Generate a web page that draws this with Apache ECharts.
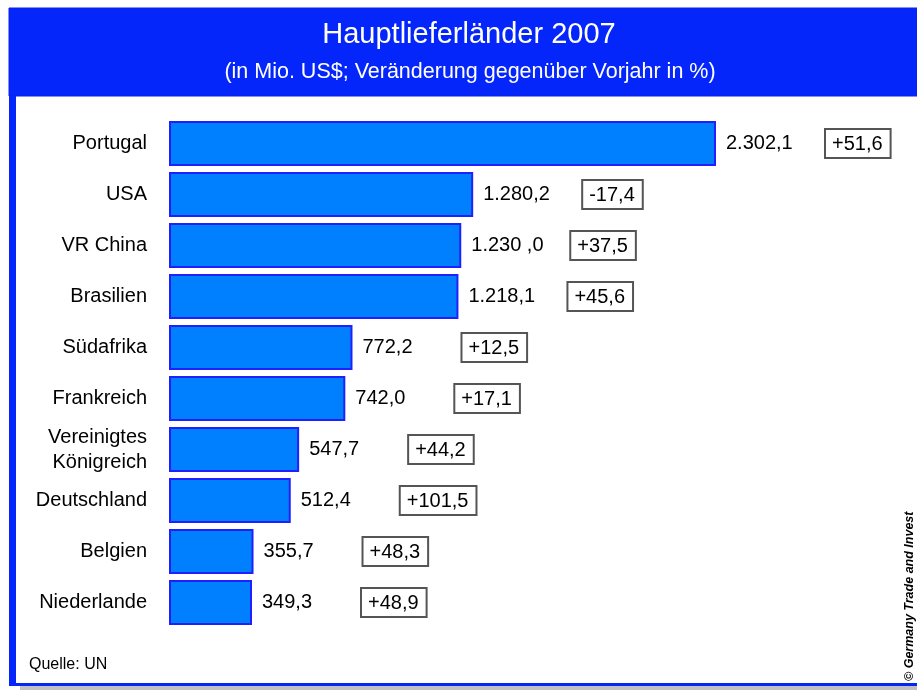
<!DOCTYPE html>
<html>
<head>
<meta charset="utf-8">
<title>Hauptlieferländer 2007</title>
<script src="https://cdn.jsdelivr.net/npm/echarts@6/dist/echarts.min.js"></script>
<style>
  html, body { margin: 0; padding: 0; background: #fff; }
  #chart { width: 917px; height: 690px; }
</style>
</head>
<body>
<div id="chart"></div>
<script>
// Daten
var countries = ["Portugal", "USA", "VR China", "Brasilien", "Südafrika", "Frankreich",
  "Vereinigtes\nKönigreich", "Deutschland", "Belgien", "Niederlande"];
var values = [2302.1, 1280.2, 1230.0, 1218.1, 772.2, 742.0, 547.7, 512.4, 355.7, 349.3];
// Beschriftung wie im Original (inkl. "1.230 ,0")
var valueLabels = ["2.302,1", "1.280,2", "1.230 ,0", "1.218,1", "772,2", "742,0",
  "547,7", "512,4", "355,7", "349,3"];
var changes = [51.6, -17.4, 37.5, 45.6, 12.5, 17.1, 44.2, 101.5, 48.3, 48.9];

var font = "Liberation Sans, Arial, sans-serif";
var blue = "#0526fa";

function fmtChange(n) {
  return (n > 0 ? "+" : "") + n.toFixed(1).replace(".", ",");
}

var chart = echarts.init(document.getElementById("chart"));

var option = {
  animation: false,
  backgroundColor: "#fff",
  graphic: [
    // Kopfzeile
    { type: "rect", shape: { x: 9, y: 8, width: 908, height: 88 }, style: { fill: blue, stroke: "#0a1ee8", lineWidth: 1 }, z: -1 },
    // Rahmen links / unten
    { type: "rect", shape: { x: 9, y: 96, width: 7, height: 590 }, style: { fill: blue }, z: -1 },
    { type: "rect", shape: { x: 9, y: 683, width: 908, height: 3 }, style: { fill: blue }, z: -1 },
    { type: "rect", shape: { x: 20, y: 686, width: 897, height: 4 }, style: { fill: "#c0c0c0" }, z: -1 },
    { type: "text", x: 469, y: 20,
      style: { text: "Hauptlieferländer 2007", fill: "#fff", font: "29px " + font, align: "center" } },
    { type: "text", x: 470, y: 61,
      style: { text: "(in Mio. US$; Veränderung gegenüber Vorjahr in %)", fill: "#fff", font: "21.5px " + font, align: "center" } },
    { type: "text", x: 29, y: 657,
      style: { text: "Quelle: UN", fill: "#000", font: "16px " + font } },
    { type: "text", x: 916, y: 681, rotation: Math.PI / 2, originX: 0, originY: 0,
      style: { text: "© Germany Trade and Invest", fill: "#000", font: "italic bold 12.5px " + font,
        align: "left", verticalAlign: "bottom" } }
  ],
  grid: { left: 169, top: 118, width: 547, height: 510 },
  xAxis: { type: "value", min: 0, max: 2302.1, show: false },
  yAxis: {
    type: "category",
    inverse: true,
    data: countries,
    axisLine: { show: false },
    axisTick: { alignWithLabel: true, length: 9, lineStyle: { color: "#aaa" } },
    axisLabel: { margin: 22, color: "#000", fontSize: 20, fontFamily: font, lineHeight: 25 }
  },
  series: [
    {
      type: "bar",
      data: values,
      barWidth: 45,
      itemStyle: { color: "#0080ff", borderColor: "#2020ff", borderWidth: 2 },
      label: {
        show: true,
        position: "right",
        distance: 10,
        formatter: function (p) {
          return "{v|" + valueLabels[p.dataIndex] + "}{c|" + fmtChange(changes[p.dataIndex]) + "}";
        },
        rich: {
          v: { width: 100, fontSize: 20, color: "#000", fontFamily: font },
          c: { fontSize: 20, color: "#000", fontFamily: font, backgroundColor: "#fff",
            borderColor: "#555", borderWidth: 2, padding: [4, 7, 3, 6] }
        }
      }
    }
  ]
};

chart.setOption(option);
</script>
</body>
</html>
